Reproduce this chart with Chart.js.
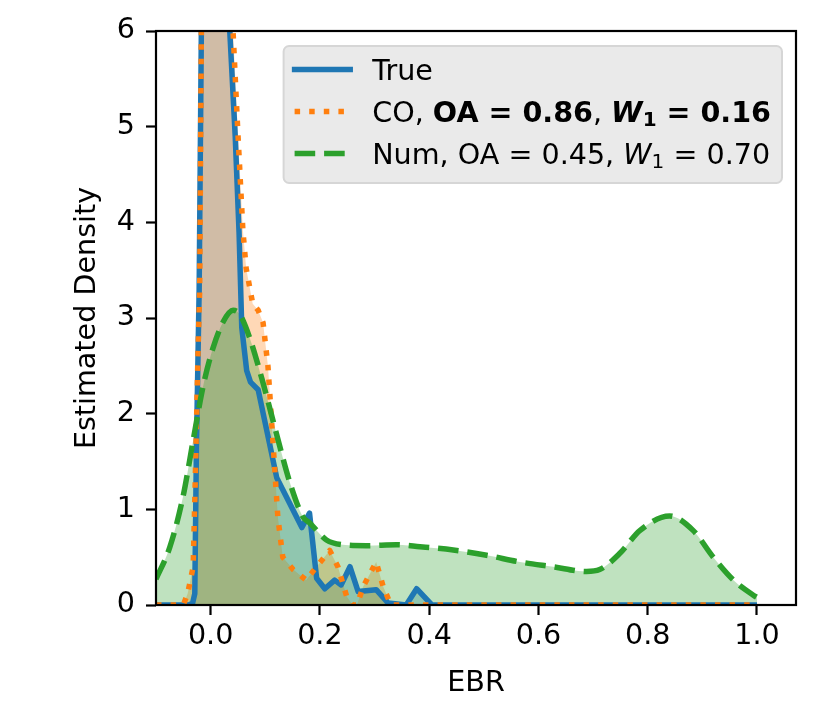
<!DOCTYPE html>
<html><head><meta charset="utf-8">
<script src="https://cdn.jsdelivr.net/npm/chart.js@4.4.1/dist/chart.umd.min.js"></script>
<style>html,body{margin:0;padding:0;background:#fff}#wrap{width:830px;height:727px;position:relative}</style>
</head><body><div id="wrap"><canvas id="c"></canvas></div>
<script>
// ---- data ----
const xTicks = [0.0, 0.2, 0.4, 0.6, 0.8, 1.0];
const yTicks = [0, 1, 2, 3, 4, 5, 6];
const xTitle = 'EBR';
const yTitle = 'Estimated Density';

const trueX = [-0.1, -0.04, -0.033, -0.029, -0.026, -0.021, -0.017, 0.008, 0.035, 0.045, 0.052, 0.057, 0.066, 0.073, 0.087, 0.121, 0.167, 0.181, 0.194, 0.209, 0.227, 0.239, 0.255, 0.27, 0.303, 0.325, 0.358, 0.377, 0.405, 1.0];
const trueY = [0, 0, 0.02, 0.12, 1.65, 3.3, 6.0, 11.0, 6.0, 4.9, 3.9, 2.9, 2.45, 2.33, 2.25, 1.33, 0.81, 0.96, 0.28, 0.17, 0.26, 0.21, 0.40, 0.14, 0.16, 0.02, 0, 0.17, 0, 0];

const coX = [-0.1, -0.05, -0.042, -0.032, -0.029, -0.026, -0.023, -0.02, -0.017, 0.01, 0.041, 0.05, 0.059, 0.065, 0.077, 0.087, 0.096, 0.105, 0.111, 0.117, 0.123, 0.132, 0.151, 0.175, 0.194, 0.218, 0.233, 0.249, 0.26, 0.268, 0.279, 0.303, 0.316, 0.33, 1.0];
const coY = [0, 0, 0.12, 0.4, 1.1, 1.86, 2.67, 3.3, 6.0, 11.0, 6.0, 4.92, 3.92, 3.52, 3.15, 3.08, 2.95, 2.49, 1.97, 1.45, 0.92, 0.5, 0.37, 0.26, 0.4, 0.57, 0.4, 0.09, 0, 0, 0.19, 0.45, 0.19, 0, 0];

const numX = [-0.1, -0.075, -0.051, -0.032, -0.014, 0.004, 0.023, 0.041, 0.053, 0.071, 0.096, 0.12, 0.145, 0.169, 0.181, 0.212, 0.242, 0.285, 0.34, 0.383, 0.444, 0.505, 0.566, 0.627, 0.688, 0.712, 0.749, 0.786, 0.84, 0.883, 0.92, 0.957, 0.994, 1.0];
const numY = [0.27, 0.6, 1.12, 1.72, 2.28, 2.68, 2.96, 3.08, 3.04, 2.8, 2.32, 1.8, 1.28, 0.92, 0.86, 0.68, 0.63, 0.62, 0.63, 0.61, 0.575, 0.52, 0.45, 0.40, 0.35, 0.37, 0.54, 0.78, 0.93, 0.78, 0.5, 0.26, 0.10, 0.08];

const seriesNames = ['True', 'CO', 'Num'];
const oaScores = [null, 0.86, 0.45];
const w1Scores = [null, 0.16, 0.70];
const boldRow = [false, true, false];
const lineColors = ['#1f77b4', '#ff7f0e', '#2ca02c'];
const fillColors = ['rgba(31,119,180,0.3)', 'rgba(255,127,14,0.3)', 'rgba(44,160,44,0.3)'];

// ---- styling ----
const FS = 28.6;
const LW = 5.5;
const DOT = [5.5, 9.1];
const DASH = [20.6, 8.9];
const dashes = [[], DOT, DASH];
Chart.defaults.font.family = '"DejaVu Sans", sans-serif';
Chart.defaults.font.size = FS;
Chart.defaults.color = '#000';

const zip = (xs, ys) => xs.map((x, i) => ({x: x, y: ys[i]}));
const seriesXs = [trueX, coX, numX];
const seriesYs = [trueY, coY, numY];

const datasets = seriesNames.map((n, i) => ({
  label: n,
  data: zip(seriesXs[i], seriesYs[i]),
  borderColor: lineColors[i],
  backgroundColor: fillColors[i],
  borderWidth: LW,
  borderDash: dashes[i],
  borderCapStyle: 'butt',
  borderJoinStyle: 'round',
  fill: 'origin',
  pointRadius: 0,
  tension: 0,
  cubicInterpolationMode: i === 2 ? 'monotone' : 'default',
  order: 3 - i
}));

function legendSegments(i) {
  if (oaScores[i] === null) return [{t: seriesNames[i]}];
  const b = boldRow[i];
  return [
    {t: seriesNames[i] + ', '},
    {t: 'OA = ' + oaScores[i].toFixed(2), bold: b},
    {t: ', '},
    {t: 'W', italic: true, bold: b},
    {t: '1', sub: true, bold: b},
    {t: ' = ' + w1Scores[i].toFixed(2), bold: b}
  ];
}
function segFont(s) {
  const size = s.sub ? FS * 0.7 : FS;
  return (s.italic ? 'italic ' : '') + (s.bold ? 'bold ' : '') + size + 'px "DejaVu Sans"';
}
function measureSegs(ctx, segs) {
  let w = 0;
  for (const s of segs) { ctx.font = segFont(s); w += ctx.measureText(s.t).width; }
  return w;
}

const framePlugin = {
  id: 'frame',
  afterDatasetsDraw(chart) {
    const ctx = chart.ctx, ca = chart.chartArea;
    ctx.save();
    ctx.strokeStyle = '#000';
    ctx.lineWidth = 2.2;
    ctx.strokeRect(ca.left, ca.top, ca.right - ca.left, ca.bottom - ca.top);
    ctx.restore();
  }
};

const legendPlugin = {
  id: 'mplLegend',
  afterDraw(chart) {
    const ctx = chart.ctx, ca = chart.chartArea;
    ctx.save();
    const pad = 11, handle = 55.6, tpad = 22;
    let maxW = 0;
    const rows = seriesNames.map((n, i) => legendSegments(i));
    rows.forEach(r => { maxW = Math.max(maxW, measureSegs(ctx, r)); });
    const w = pad + handle + tpad + maxW + pad;
    const h = 137;
    const right = ca.right - 14, top = ca.top + 15;
    const left = right - w;
    const r = 5.5;
    ctx.beginPath();
    ctx.moveTo(left + r, top);
    ctx.lineTo(right - r, top); ctx.arcTo(right, top, right, top + r, r);
    ctx.lineTo(right, top + h - r); ctx.arcTo(right, top + h, right - r, top + h, r);
    ctx.lineTo(left + r, top + h); ctx.arcTo(left, top + h, left, top + h - r, r);
    ctx.lineTo(left, top + r); ctx.arcTo(left, top, left + r, top, r);
    ctx.closePath();
    ctx.fillStyle = '#eaeaea';
    ctx.fill();
    ctx.strokeStyle = '#d6d6d6';
    ctx.lineWidth = 2;
    ctx.stroke();
    const baselines = [33.5, 75.5, 117.5];
    rows.forEach((segs, i) => {
      const by = top + baselines[i];
      const hy = by - 10;
      ctx.beginPath();
      ctx.strokeStyle = lineColors[i];
      ctx.lineWidth = LW;
      ctx.setLineDash(dashes[i]);
      ctx.lineCap = i === 0 ? 'square' : 'butt';
      ctx.moveTo(left + pad, hy);
      ctx.lineTo(left + pad + handle, hy);
      ctx.stroke();
      ctx.setLineDash([]);
      let x = left + pad + handle + tpad;
      ctx.fillStyle = '#000';
      ctx.textBaseline = 'alphabetic';
      ctx.textAlign = 'left';
      for (const s of segs) {
        ctx.font = segFont(s);
        ctx.fillText(s.t, x, by + (s.sub ? 4 : 0));
        x += ctx.measureText(s.t).width;
      }
    });
    ctx.restore();
  }
};

new Chart(document.getElementById('c'), {
  type: 'line',
  data: {datasets: datasets},
  options: {
    responsive: true,
    maintainAspectRatio: false,
    animation: false,
    events: [],
    layout: {padding: {left: 0, top: 31, right: 34, bottom: 0}},
    plugins: {
      legend: {display: false},
      tooltip: {enabled: false},
      filler: {drawTime: 'beforeDatasetsDraw'}
    },
    scales: {
      x: {
        type: 'linear',
        min: -0.1,
        max: 1.0714,
        afterBuildTicks: s => { s.ticks = xTicks.map(v => ({value: v})); },
        afterFit: s => { s.height = 122; },
        ticks: {padding: 4, maxRotation: 0, autoSkip: false, callback: v => Number(v).toFixed(1)},
        grid: {drawOnChartArea: false, drawTicks: true, tickLength: 10, tickWidth: 2.2, tickColor: '#000'},
        border: {display: false},
        title: {display: true, text: xTitle, padding: {top: 0, bottom: 26.5}}
      },
      y: {
        type: 'linear',
        min: 0,
        max: 6,
        afterBuildTicks: s => { s.ticks = yTicks.map(v => ({value: v})); },
        afterFit: s => { s.width = 156; },
        ticks: {padding: 11, autoSkip: false, callback: v => String(v)},
        grid: {drawOnChartArea: false, drawTicks: true, tickLength: 10, tickWidth: 2.2, tickColor: '#000'},
        border: {display: false},
        title: {display: true, text: yTitle, padding: {top: 70.5, bottom: 0}}
      }
    }
  },
  plugins: [framePlugin, legendPlugin]
});
</script>
</body></html>
